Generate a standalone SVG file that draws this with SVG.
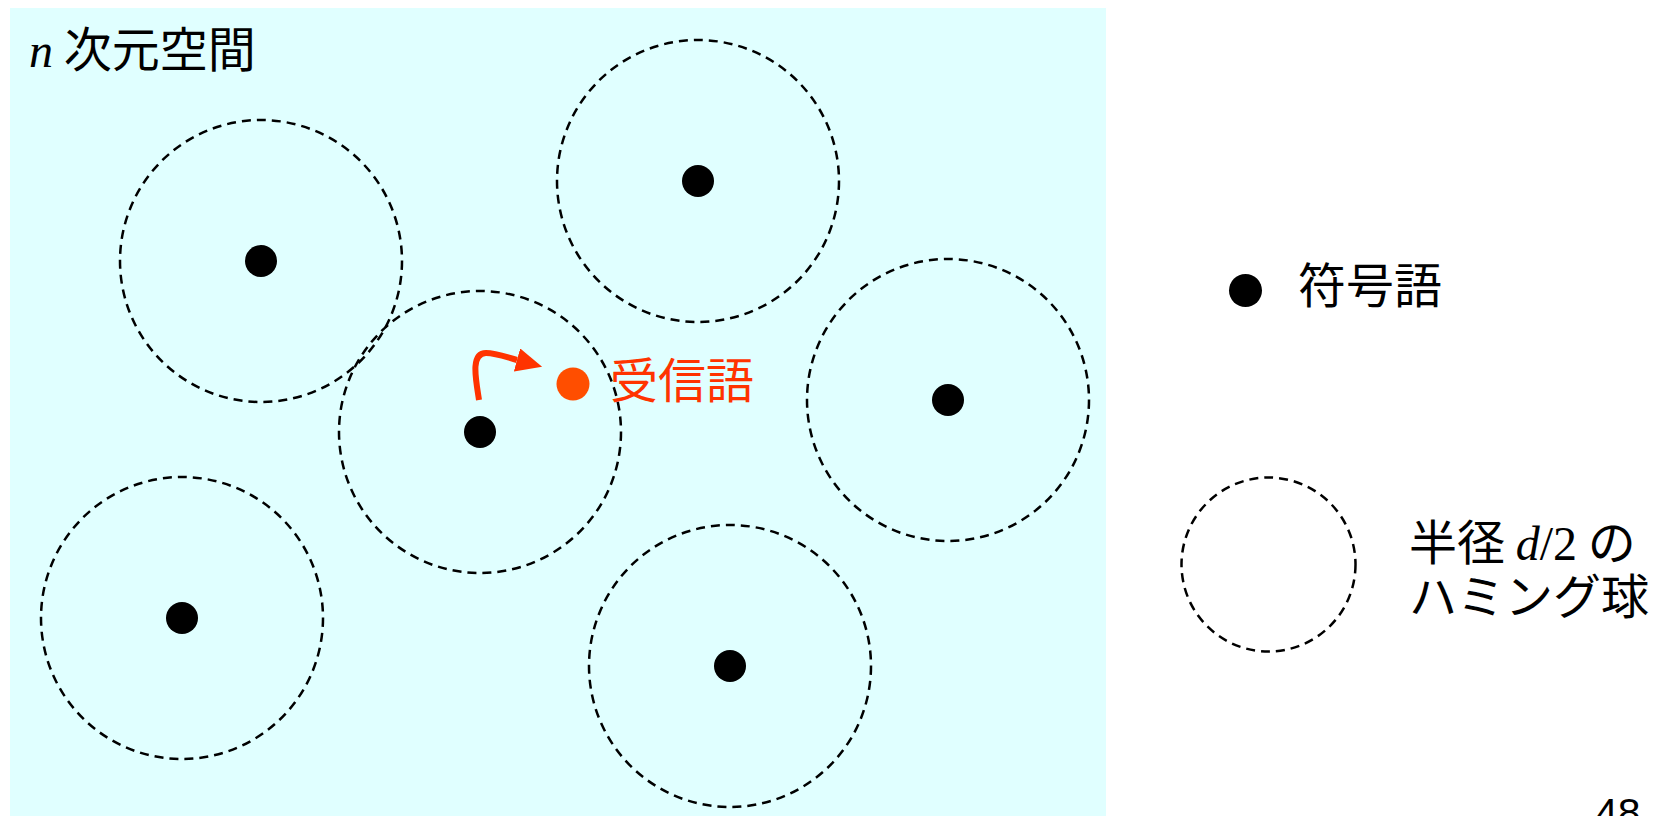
<svg xmlns="http://www.w3.org/2000/svg" width="1668" height="816" viewBox="0 0 1668 816">
<style>
.ball{fill:none;stroke:#000;stroke-width:2.5;stroke-dasharray:9 6}
.dot{fill:#000}
.jp{font-family:"Noto Sans CJK JP","Liberation Sans",sans-serif;font-size:48px;fill:#000}
.red{fill:#FF3300}
.it{font-family:"Liberation Serif",serif;font-style:italic}
.rm{font-family:"Liberation Serif",serif}
</style>
<defs>
<marker id="ah" viewBox="0 0 26 24" refX="0" refY="12" markerWidth="26" markerHeight="24" orient="auto" markerUnits="userSpaceOnUse">
<path d="M0,0 L26,12 L0,24 Z" fill="#FF3300"/>
</marker>
</defs>
<rect x="10" y="8" width="1096" height="820" fill="#E0FFFF"/>
<text x="29" y="67" class="jp"><tspan class="it">n</tspan> 次元空間</text>
<g id="ball1"><circle class="ball" cx="261" cy="261" r="141"/><circle class="dot" cx="261" cy="261" r="16"/></g>
<g id="ball2"><circle class="ball" cx="698" cy="181" r="141"/><circle class="dot" cx="698" cy="181" r="16"/></g>
<g id="ball3"><circle class="ball" cx="480" cy="432" r="141"/><circle class="dot" cx="480" cy="432" r="16"/></g>
<g id="ball4"><circle class="ball" cx="948" cy="400" r="141"/><circle class="dot" cx="948" cy="400" r="16"/></g>
<g id="ball5"><circle class="ball" cx="182" cy="618" r="141"/><circle class="dot" cx="182" cy="618" r="16"/></g>
<g id="ball6"><circle class="ball" cx="730" cy="666" r="141"/><circle class="dot" cx="730" cy="666" r="16"/></g>
<g id="received"><circle cx="573" cy="384" r="16.5" fill="#FF4E00"/><text x="610" y="398" class="jp red">受信語</text></g>
<g id="connectors">
<path d="M479,400 C476,380 470,353 486,353 C496,353 506,357 517,360" fill="none" stroke="#FF3300" stroke-width="6" marker-end="url(#ah)"/>
</g>
<g id="legend-dot"><circle class="dot" cx="1245.5" cy="290.5" r="16.5"/><text x="1298" y="303" class="jp">符号語</text></g>
<g id="legend-ball"><circle class="ball" cx="1268.5" cy="564.5" r="87"/>
<text x="1409" y="560" class="jp">半径 <tspan class="it">d</tspan><tspan class="rm">/2</tspan> の</text>
<text x="1409" y="614" class="jp">ハミング球</text></g>
<text x="1595" y="827" font-family="Liberation Sans, sans-serif" font-size="41" fill="#000">48</text>
</svg>
